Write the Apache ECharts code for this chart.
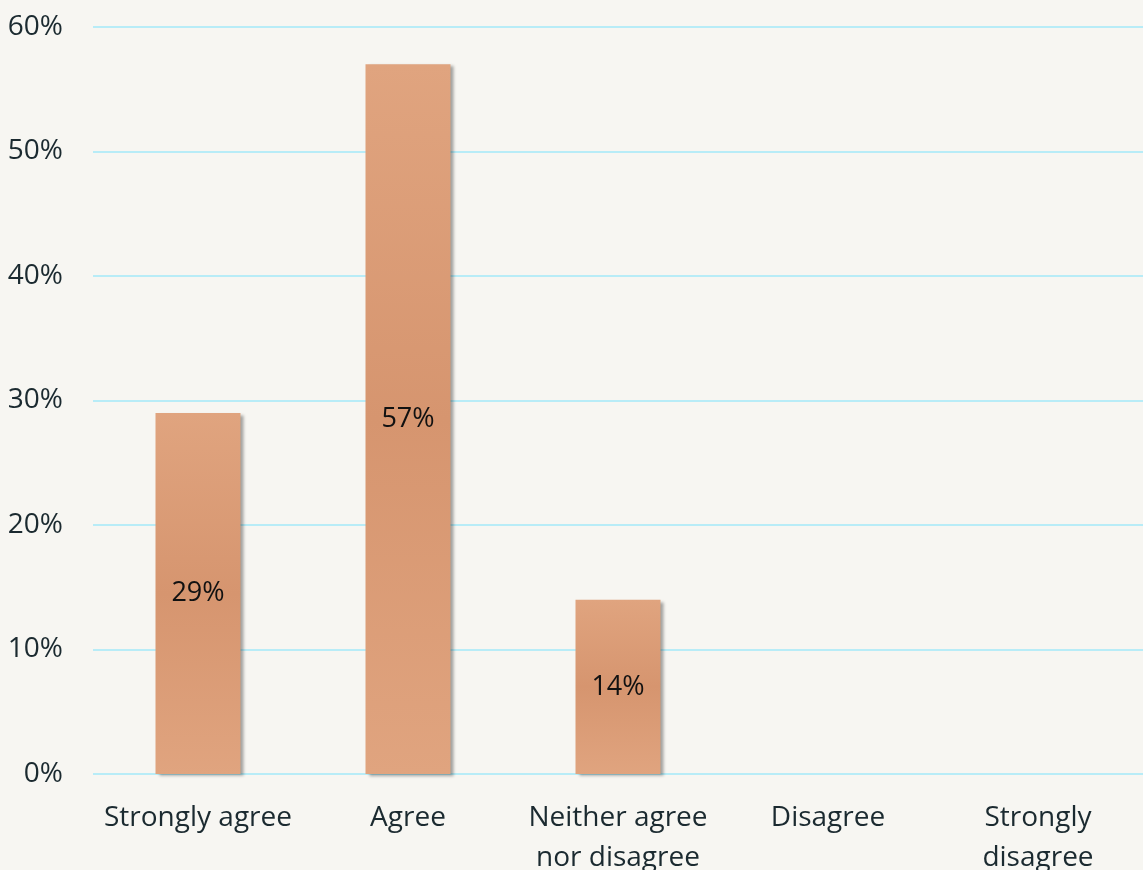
<!DOCTYPE html>
<html><head><meta charset="utf-8">
<script src="https://cdn.jsdelivr.net/npm/echarts@6/dist/echarts.min.js"></script>
<style>html,body{margin:0;padding:0;background:#f7f6f2;}#c{width:1143px;height:870px;}</style>
</head><body><div id="c"></div>
<script>
const categories = ['Strongly agree', 'Agree', 'Neither agree\nnor disagree', 'Disagree', 'Strongly\ndisagree'];
const values = [29, 57, 14, 0, 0];
const yTicks = [0, 10, 20, 30, 40, 50, 60];

const chart = echarts.init(document.getElementById('c'), null, {renderer: 'canvas'});
const grad = new echarts.graphic.LinearGradient(0, 0, 0, 1, [
  {offset: 0, color: '#e0a47f'},
  {offset: 0.5, color: '#d6956f'},
  {offset: 1, color: '#e0a47f'}
]);
chart.setOption({
  backgroundColor: '#f7f6f2',
  animation: false,
  grid: {left: 93, right: 0, top: 27, bottom: 96, containLabel: false, outerBoundsMode: 'none'},
  xAxis: {
    type: 'category', data: categories,
    axisLine: {show: false}, axisTick: {show: false},
    axisLabel: {color: '#1b2a30', fontSize: 28, fontFamily: 'Open Sans', margin: 24, lineHeight: 40, interval: 0}
  },
  yAxis: {
    type: 'value', min: yTicks[0], max: yTicks[yTicks.length - 1], interval: 10,
    axisLine: {show: false}, axisTick: {show: false},
    splitLine: {lineStyle: {color: '#b8ecf7', width: 2}},
    axisLabel: {color: '#1b2a30', fontSize: 28, fontFamily: 'Open Sans', margin: 30, formatter: v => v + '%'}
  },
  series: [{
    type: 'bar', data: values, barWidth: 85,
    itemStyle: {color: grad, shadowColor: 'rgba(0,0,0,0.35)', shadowBlur: 3, shadowOffsetX: 3, shadowOffsetY: 2},
    label: {show: true, position: 'inside', color: '#111', fontSize: 27, fontFamily: 'Open Sans',
      formatter: p => p.value > 0 ? p.value + '%' : ''}
  }]
});
</script></body></html>
